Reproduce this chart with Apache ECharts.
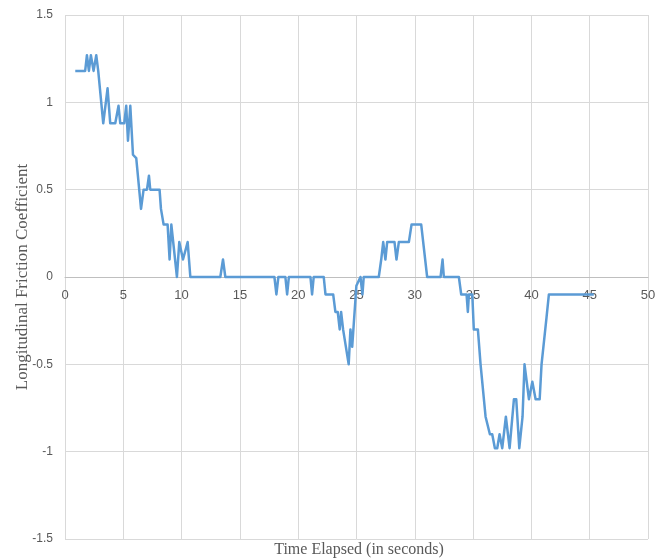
<!DOCTYPE html>
<html>
<head>
<meta charset="utf-8">
<script src="https://cdn.jsdelivr.net/npm/echarts@6/dist/echarts.min.js"></script>
<style>
  html, body { margin: 0; padding: 0; background: #fff; }
  #chart { width: 668px; height: 558px; }
</style>
</head>
<body>
<div id="chart"></div>
<script>
  // time (s)
  var timeSec = [
    0.88, 1.73, 1.88, 2.05, 2.22, 2.45, 2.68, 2.85, 3.02, 3.28,
    3.65, 3.88, 4.31, 4.59, 4.74, 5.08, 5.25, 5.40, 5.60, 5.83,
    6.11, 6.52, 6.74, 7.03, 7.20, 7.31, 8.11, 8.23, 8.46, 8.80,
    8.97, 9.12, 9.60, 9.80, 10.12, 10.52, 10.75, 13.32, 13.55, 13.75,
    17.96, 18.13, 18.30, 18.90, 19.05, 19.20, 21.05, 21.19, 21.33, 22.19,
    22.34, 23.00, 23.19, 23.39, 23.56, 23.68, 23.85, 23.99, 24.33, 24.48,
    24.63, 24.99, 25.34, 25.51, 25.62, 26.91, 27.12, 27.29, 27.48, 27.63,
    28.26, 28.43, 28.63, 29.49, 29.72, 30.55, 31.06, 32.21, 32.38, 32.49,
    33.78, 33.98, 34.44, 34.55, 34.64, 34.93, 35.06, 35.41, 35.64, 36.07,
    36.21, 36.44, 36.64, 36.87, 37.07, 37.27, 37.50, 37.81, 38.13, 38.50,
    38.70, 38.96, 39.24, 39.41, 39.79, 40.08, 40.36, 40.71, 40.87, 41.02,
    41.30, 41.50, 45.35
  ];
  // longitudinal friction coefficient
  var friction = [
    1.18, 1.18, 1.27, 1.18, 1.27, 1.18, 1.27, 1.18, 1.18, 0.88,
    1.08, 0.88, 0.88, 0.98, 0.88, 0.88, 0.98, 0.78, 0.98, 0.70,
    0.68, 0.39, 0.50, 0.50, 0.58, 0.50, 0.50, 0.39, 0.30, 0.30,
    0.10, 0.30, 0.00, 0.20, 0.10, 0.20, 0.00, 0.00, 0.10, 0.00,
    0.00, -0.10, 0.00, 0.00, -0.10, 0.00, 0.00, -0.10, 0.00, 0.00,
    -0.10, -0.10, -0.20, -0.20, -0.30, -0.20, -0.30, -0.30, -0.50, -0.30,
    -0.40, -0.05, 0.00, -0.10, 0.00, 0.00, 0.10, 0.20, 0.10, 0.20,
    0.20, 0.10, 0.20, 0.20, 0.30, 0.30, 0.00, 0.00, 0.10, 0.00,
    0.00, -0.10, -0.10, -0.20, -0.10, -0.10, -0.30, -0.30, -0.50, -0.80,
    -0.80, -0.90, -0.90, -0.98, -0.98, -0.90, -0.98, -0.80, -0.98, -0.70,
    -0.70, -0.98, -0.80, -0.50, -0.70, -0.60, -0.70, -0.70, -0.50, -0.50,
    -0.23, -0.10, -0.10
  ];
  var xTicks = [0, 5, 10, 15, 20, 25, 30, 35, 40, 45, 50];
  var yTicks = [-1.5, -1, -0.5, 0, 0.5, 1, 1.5];

  var points = [];
  for (var i = 0; i < timeSec.length; i++) {
    points.push([timeSec[i], friction[i]]);
  }

  var gridTop = 15, gridBottom = 19;
  var plotHeight = 558 - gridTop - gridBottom;
  // x axis sits on the y = 0 line, half way up the plot
  var zeroOffset = -plotHeight / 2;

  var myChart = echarts.init(document.getElementById('chart'));
  myChart.setOption({
    animation: false,
    title: {
      text: 'Time Elapsed (in seconds)',
      left: 359,
      top: 542,
      textAlign: 'center',
      textStyle: {
        fontFamily: 'Liberation Serif',
        fontSize: 16,
        fontWeight: 'normal',
        color: '#595959'
      },
      padding: 0
    },
    grid: { left: 65, right: 20, top: gridTop, bottom: gridBottom, outerBoundsMode: 'none' },
    xAxis: {
      type: 'value',
      position: 'bottom',
      offset: zeroOffset,
      min: xTicks[0],
      max: xTicks[xTicks.length - 1],
      interval: 5,
      axisLine: { onZero: false, lineStyle: { color: '#bfbfbf', width: 1 } },
      axisTick: { show: false },
      axisLabel: {
        color: '#595959',
        fontFamily: 'Liberation Sans',
        fontSize: 13,
        margin: 12
      },
      splitLine: { show: true, lineStyle: { color: '#d9d9d9' } }
    },
    yAxis: {
      type: 'value',
      min: yTicks[0],
      max: yTicks[yTicks.length - 1],
      interval: 0.5,
      name: 'Longitudinal Friction Coefficient',
      nameLocation: 'middle',
      nameGap: 34,
      nameMoveOverlap: false,
      nameTextStyle: {
        fontFamily: 'Liberation Serif',
        fontSize: 17,
        color: '#595959'
      },
      axisLine: { show: false, onZero: false },
      axisTick: { show: false },
      axisLabel: {
        color: '#595959',
        fontFamily: 'Liberation Sans',
        fontSize: 12,
        margin: 12
      },
      splitLine: { show: true, lineStyle: { color: '#d9d9d9' } }
    },
    series: [
      {
        type: 'line',
        data: points,
        showSymbol: false,
        lineStyle: { color: '#5b9bd5', width: 2.5, join: 'round' }
      }
    ]
  });
</script>
</body>
</html>
